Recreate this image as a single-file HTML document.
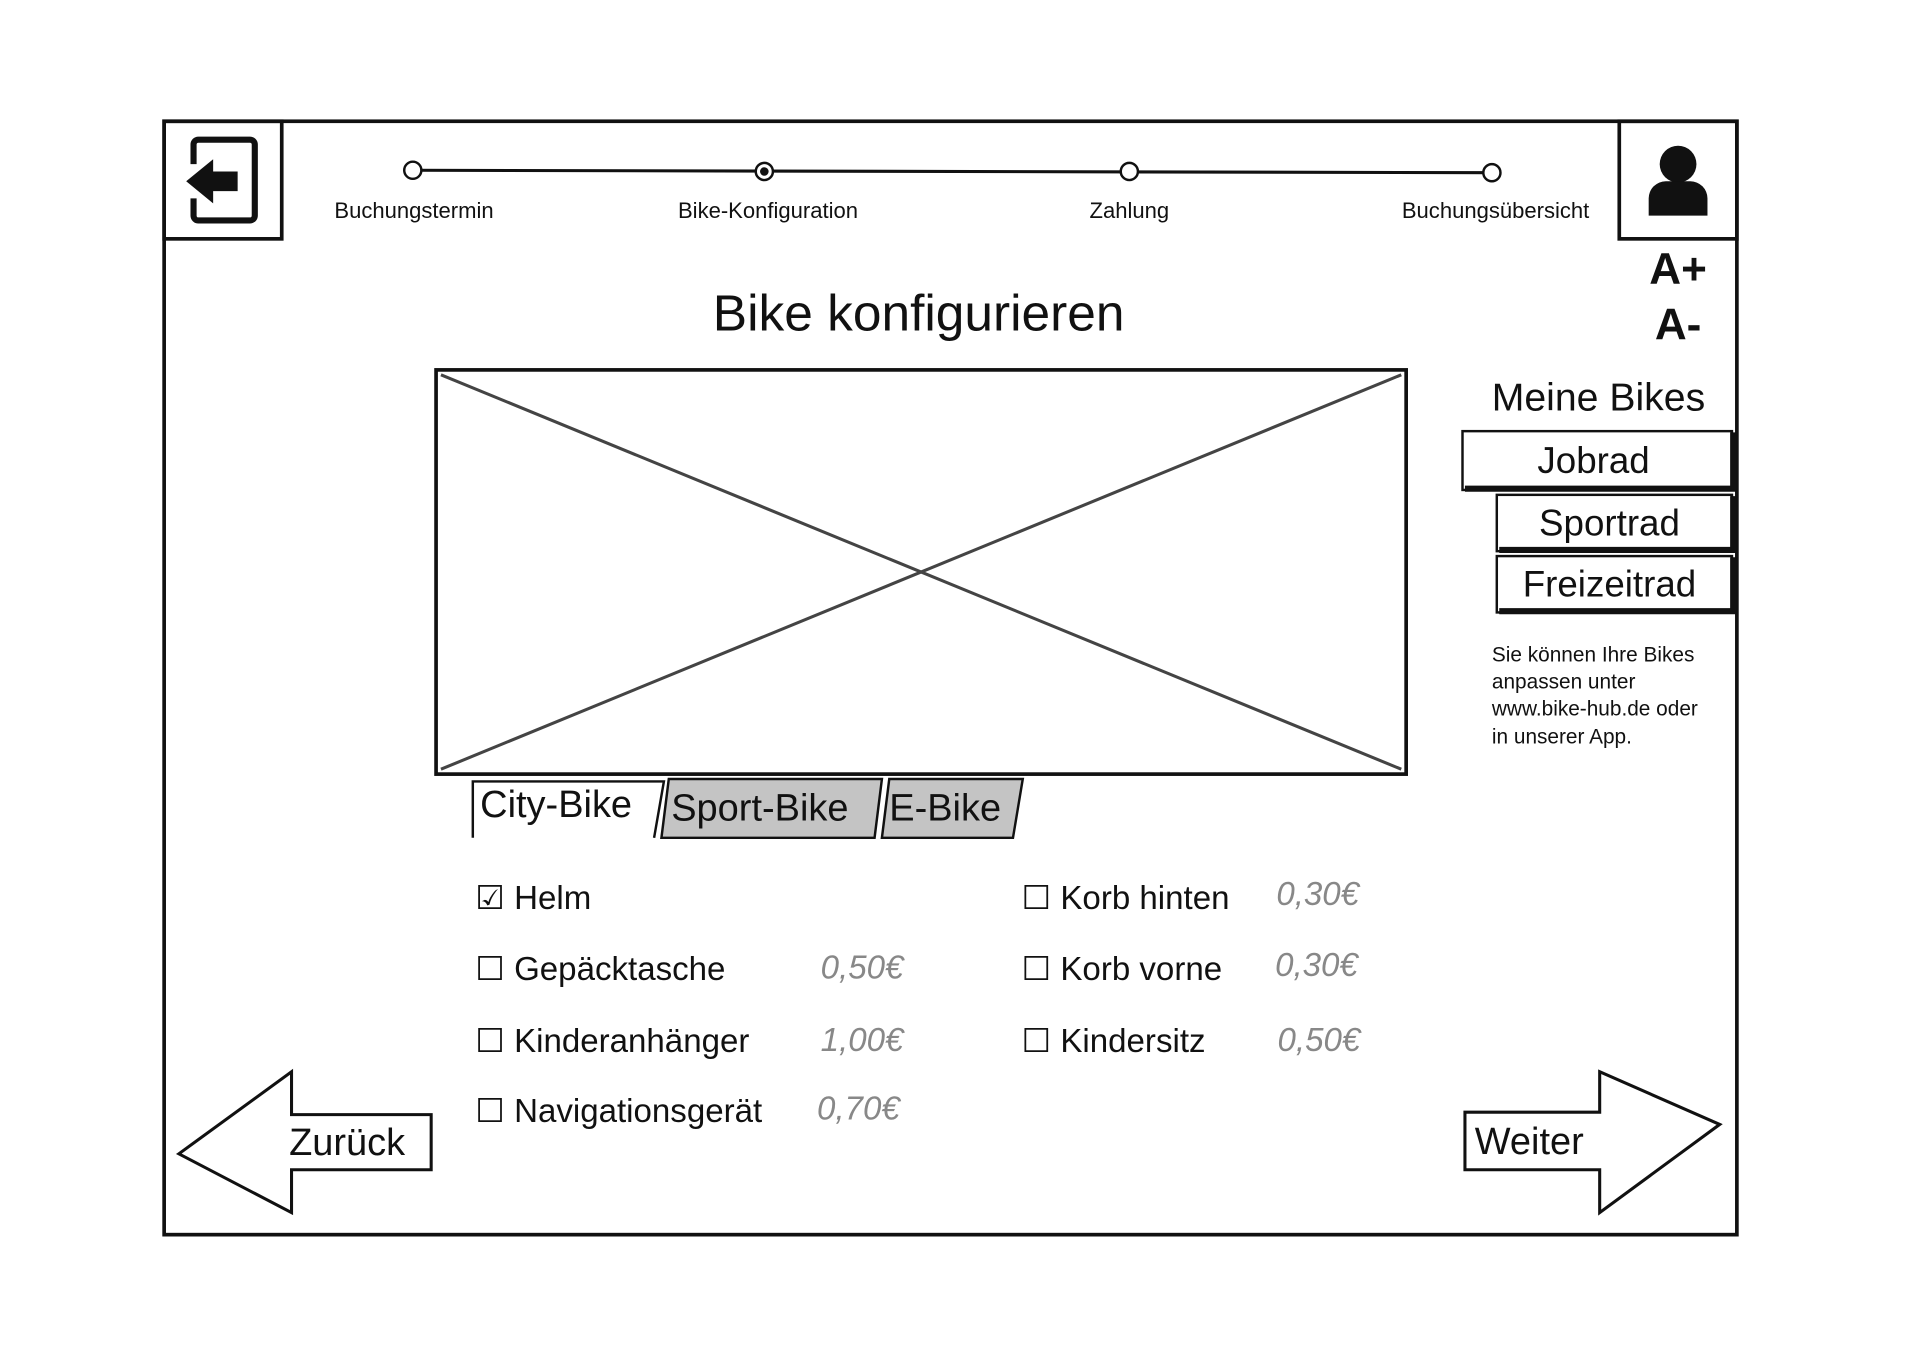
<!DOCTYPE html>
<html><head><meta charset="utf-8"><style>
html,body{margin:0;padding:0;background:#fff;}
svg{display:block;}
text{font-family:"Liberation Sans",sans-serif;fill:#111;}
</style></head><body>
<svg width="1920" height="1358" viewBox="0 0 1567.5 1108.7" xmlns="http://www.w3.org/2000/svg">
<rect width="1568" height="1109" fill="#fff"/>
<rect x="134" y="99" width="1284" height="909" fill="none" stroke="#111" stroke-width="3"/>
<rect x="134" y="99" width="96" height="96" fill="none" stroke="#111" stroke-width="3"/>
<rect x="1322" y="99" width="96" height="96" fill="none" stroke="#111" stroke-width="3"/>
<path d="M158,134 V118 a4,4 0 0 1 4,-4 H204 a4,4 0 0 1 4,4 V176 a4,4 0 0 1 -4,4 H162 a4,4 0 0 1 -4,-4 V162" fill="none" stroke="#111" stroke-width="5"/>
<path d="M152,148 L174,130 V140 H194 V156 H174 V166 Z" fill="#111"/>
<circle cx="1370" cy="134" r="15" fill="#111"/>
<path d="M1346,176 V162 a14,14 0 0 1 14,-14 H1380 a14,14 0 0 1 14,14 V176 Z" fill="#111"/>
<line x1="337" y1="139" x2="1218" y2="141" stroke="#111" stroke-width="2.5"/>
<g fill="#fff" stroke="#111" stroke-width="2">
<circle cx="337" cy="139" r="7"/><circle cx="624" cy="140" r="7"/><circle cx="922" cy="140" r="7"/><circle cx="1218" cy="141" r="7"/>
</g>
<circle cx="624" cy="140" r="3.5" fill="#111"/>
<g font-size="18" text-anchor="middle">
<text x="338" y="178">Buchungstermin</text>
<text x="627" y="178">Bike-Konfiguration</text>
<text x="922" y="178">Zahlung</text>
<text x="1221" y="178">Buchungsübersicht</text>
</g>
<text x="1370" y="232" font-size="36" font-weight="bold" text-anchor="middle">A+</text>
<text x="1370" y="277" font-size="36" font-weight="bold" text-anchor="middle">A-</text>
<text x="750" y="270" font-size="42" text-anchor="middle">Bike konfigurieren</text>
<rect x="356" y="302" width="792" height="330" fill="none" stroke="#111" stroke-width="3"/>
<line x1="360" y1="306" x2="1144" y2="628" stroke="#444" stroke-width="2.5"/>
<line x1="1144" y1="306" x2="360" y2="628" stroke="#444" stroke-width="2.5"/>
<path d="M720,684 L726,636 H835 L827,684 Z" fill="#c4c4c4" stroke="#111" stroke-width="2"/>
<path d="M540,684 L546,636 H720 L714,684 Z" fill="#c4c4c4" stroke="#111" stroke-width="2"/>
<path d="M386,684 V638 H542 L534,684" fill="#fff" stroke="#111" stroke-width="2"/>
<g font-size="31">
<text x="392" y="667">City-Bike</text>
<text x="548" y="670">Sport-Bike</text>
<text x="726" y="670">E-Bike</text>
</g>
<text x="1305" y="335" font-size="32" text-anchor="middle">Meine Bikes</text>
<g stroke="#111" fill="#fff">
<rect x="1194" y="352" width="220" height="48" stroke-width="2"/>
<path d="M1196,399 H1415 V353" fill="none" stroke-width="5"/>
<rect x="1222" y="404" width="192" height="46" stroke-width="2"/>
<path d="M1224,449 H1415 V405" fill="none" stroke-width="5"/>
<rect x="1222" y="454" width="192" height="46" stroke-width="2"/>
<path d="M1224,499 H1415 V455" fill="none" stroke-width="5"/>
</g>
<g font-size="30" text-anchor="middle">
<text x="1301" y="386">Jobrad</text>
<text x="1314" y="437">Sportrad</text>
<text x="1314" y="487">Freizeitrad</text>
</g>
<g font-size="17">
<text x="1218" y="540">Sie können Ihre Bikes</text>
<text x="1218" y="562">anpassen unter</text>
<text x="1218" y="584">www.bike-hub.de oder</text>
<text x="1218" y="607">in unserer App.</text>
</g>
<g font-size="27">
<text x="388" y="742">☑ Helm</text>
<text x="388" y="800">☐ Gepäcktasche</text>
<text x="388" y="859">☐ Kinderanhänger</text>
<text x="388" y="916">☐ Navigationsgerät</text>
<text x="834" y="742">☐ Korb hinten</text>
<text x="834" y="800">☐ Korb vorne</text>
<text x="834" y="859">☐ Kindersitz</text>
</g>
<g font-size="27" font-style="italic">
<text x="670" y="799" style="fill:#888">0,50€</text>
<text x="670" y="858" style="fill:#888">1,00€</text>
<text x="667" y="914" style="fill:#888">0,70€</text>
<text x="1042" y="739" style="fill:#888">0,30€</text>
<text x="1041" y="797" style="fill:#888">0,30€</text>
<text x="1043" y="858" style="fill:#888">0,50€</text>
</g>
<path d="M146,942 L238,875 V910 H352 V955 H238 V990 Z" fill="#fff" stroke="#111" stroke-width="2.5"/>
<text x="236" y="943" font-size="31">Zurück</text>
<path d="M1404,918 L1306,875 V908 H1196 V955 H1306 V990 Z" fill="#fff" stroke="#111" stroke-width="2.5"/>
<text x="1204" y="942" font-size="31">Weiter</text>
</svg>
</body></html>
